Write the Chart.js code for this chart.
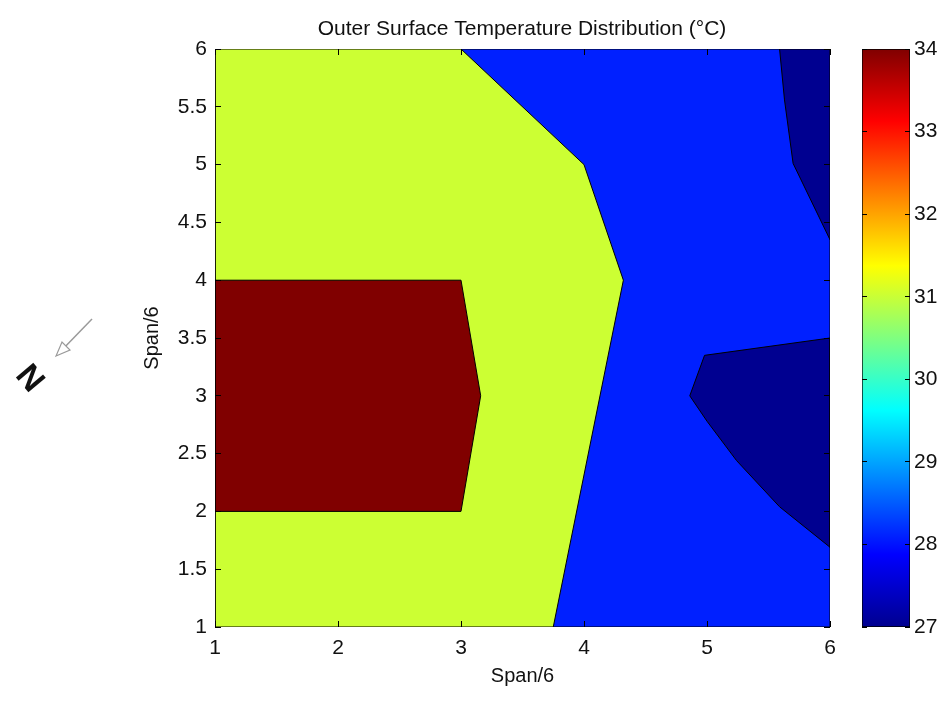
<!DOCTYPE html>
<html>

<head>
    <title>Outer Surface Temperature Distribution</title>
    <script src="https://cdn.jsdelivr.net/npm/chart.js"></script>
    <style>
        body {
            margin: 0;
            background: #fff;
            font-family: "Liberation Sans", Arial, sans-serif;
        }

        #page {
            position: relative;
            width: 947px;
            height: 702px;
            overflow: hidden;
        }

        #main,
        #cbar {
            position: absolute;
            top: 0;
        }

        #main {
            left: 0;
        }

        #cbar {
            left: 840px;
        }

        #north {
            position: absolute;
            left: 19px;
            top: 361px;
            font-size: 33px;
            font-weight: bold;
            line-height: 33px;
            color: #111;
            transform: rotate(50deg);
        }

        #arrow {
            position: absolute;
            left: 0;
            top: 0;
        }
    </style>
</head>

<body>
    <div id="page">
        <canvas id="main" width="947" height="702"></canvas>
        <canvas id="cbar" width="107" height="702"></canvas>
        <svg id="arrow" width="120" height="420">
            <line x1="92" y1="319" x2="60" y2="352" stroke="#9a9a9a" stroke-width="1.5" />
            <polygon points="56,356 70,350 62,342" fill="#fff" stroke="#9a9a9a" stroke-width="1.2" />
        </svg>
        <div id="north">N</div>
    </div>

    <script>
        // contour regions, [x, y] in Span/6 units
        const blueRegion = [[1, 1], [6, 1], [6, 6], [1, 6]];
        const yellowRegion = [[1, 1], [3.75, 1], [4.32, 4], [4, 5], [3, 6], [1, 6]];
        const redRegion = [[1, 2], [3, 2], [3.16, 3], [3, 4], [1, 4]];
        const navyTopRegion = [[5.59, 6], [5.63, 5.56], [5.7, 5.01], [6, 4.35], [6, 6]];
        const navyRightRegion = [[4.86, 3], [4.98, 3.35], [6, 3.5], [6, 1.69], [5.59, 2.04], [5.24, 2.44], [5.0, 2.78]];

        const xTickValues = [1, 2, 3, 4, 5, 6];
        const yTickValues = [1, 1.5, 2, 2.5, 3, 3.5, 4, 4.5, 5, 5.5, 6];
        const colorbarTickValues = [27, 28, 29, 30, 31, 32, 33, 34];

        // jet colormap
        const jetPositions = [0, 0.125, 0.375, 0.625, 0.875, 1];
        const jetColors = ['#00008f', '#0000ff', '#00ffff', '#ffff00', '#ff0000', '#800000'];

        const tickFont = { family: 'Liberation Sans', size: 21 };
        const labelFont = { family: 'Liberation Sans', size: 20 };
        const textColor = '#111';

        function toPoints(region) {
            return region.concat([region[0]]).map(p => ({ x: p[0], y: p[1] }));
        }

        function regionDataset(region, color, order) {
            return {
                data: toPoints(region),
                showLine: true,
                fill: 'shape',
                backgroundColor: color,
                borderColor: '#000',
                borderWidth: 1,
                pointRadius: 0,
                tension: 0,
                order: order
            };
        }

        new Chart(document.getElementById('main'), {
            type: 'scatter',
            data: {
                datasets: [
                    regionDataset(blueRegion, '#0020ff', 5),
                    regionDataset(yellowRegion, '#ccff33', 4),
                    regionDataset(redRegion, '#800000', 3),
                    regionDataset(navyTopRegion, '#000090', 2),
                    regionDataset(navyRightRegion, '#000090', 1)
                ]
            },
            options: {
                responsive: false,
                animation: false,
                // y axis box 101 wide on the left, empty 100 wide box on the right,
                // so the title centres over the plot
                layout: { padding: { left: 114, right: 17, top: 0, bottom: 0 } },
                plugins: {
                    legend: { display: false },
                    tooltip: { enabled: false },
                    title: {
                        display: true,
                        text: 'Outer Surface Temperature Distribution (°C)',
                        color: textColor,
                        font: { family: 'Liberation Sans', size: 21, weight: 'normal' },
                        padding: { top: 17, bottom: 6.8 }
                    }
                },
                scales: {
                    x: {
                        type: 'linear',
                        min: 1,
                        max: 6,
                        afterBuildTicks: s => { s.ticks = xTickValues.map(v => ({ value: v })); },
                        afterFit: s => { s.height = 75; },
                        ticks: { color: textColor, font: tickFont, padding: 9, callback: v => String(v) },
                        grid: { drawTicks: false, color: '#000', z: 1 },
                        border: { display: false, dash: [6, 566, 6] },
                        title: { display: true, text: 'Span/6', color: textColor, font: labelFont, padding: { top: 0, bottom: 14 } }
                    },
                    y: {
                        type: 'linear',
                        min: 1,
                        max: 6,
                        afterBuildTicks: s => { s.ticks = yTickValues.map(v => ({ value: v })); },
                        afterFit: s => { s.width = 101; },
                        ticks: { color: textColor, font: tickFont, padding: 8, callback: v => String(v) },
                        grid: { drawTicks: false, color: '#000', z: 1 },
                        border: { display: false, dash: [6, 603, 6] },
                        title: { display: true, text: 'Span/6', color: textColor, font: labelFont, padding: { top: 26, bottom: 0 } }
                    },
                    yRight: {
                        type: 'linear',
                        position: 'right',
                        min: 1,
                        max: 6,
                        afterFit: s => { s.width = 100; },
                        ticks: { display: false },
                        grid: { display: false },
                        border: { display: false }
                    }
                }
            }
        });

        new Chart(document.getElementById('cbar'), {
            type: 'bar',
            data: {
                labels: [''],
                datasets: [{
                    data: [[colorbarTickValues[0], colorbarTickValues[colorbarTickValues.length - 1]]],
                    barPercentage: 1,
                    categoryPercentage: 1,
                    borderWidth: 1,
                    borderColor: '#000',
                    borderSkipped: false,
                    backgroundColor: c => {
                        const chart = c.chart;
                        if (!chart.chartArea) return '#000';
                        const y = chart.scales.y;
                        const lo = colorbarTickValues[0];
                        const hi = colorbarTickValues[colorbarTickValues.length - 1];
                        const g = chart.ctx.createLinearGradient(0, y.getPixelForValue(lo), 0, y.getPixelForValue(hi));
                        jetPositions.forEach((p, i) => g.addColorStop(p, jetColors[i]));
                        return g;
                    }
                }]
            },
            options: {
                responsive: false,
                animation: false,
                layout: { padding: { left: 22, right: 0, top: 49, bottom: 75 } },
                plugins: {
                    legend: { display: false },
                    tooltip: { enabled: false }
                },
                scales: {
                    x: { display: false },
                    y: {
                        position: 'right',
                        min: 27,
                        max: 34,
                        afterBuildTicks: s => { s.ticks = colorbarTickValues.map(v => ({ value: v })); },
                        afterFit: s => { s.width = 37; },
                        ticks: { color: textColor, font: tickFont, padding: 4 },
                        grid: { drawTicks: false, color: '#000', z: 1 },
                        border: { display: false, dash: [5, 38, 5] }
                    }
                }
            }
        });
    </script>
</body>

</html>
